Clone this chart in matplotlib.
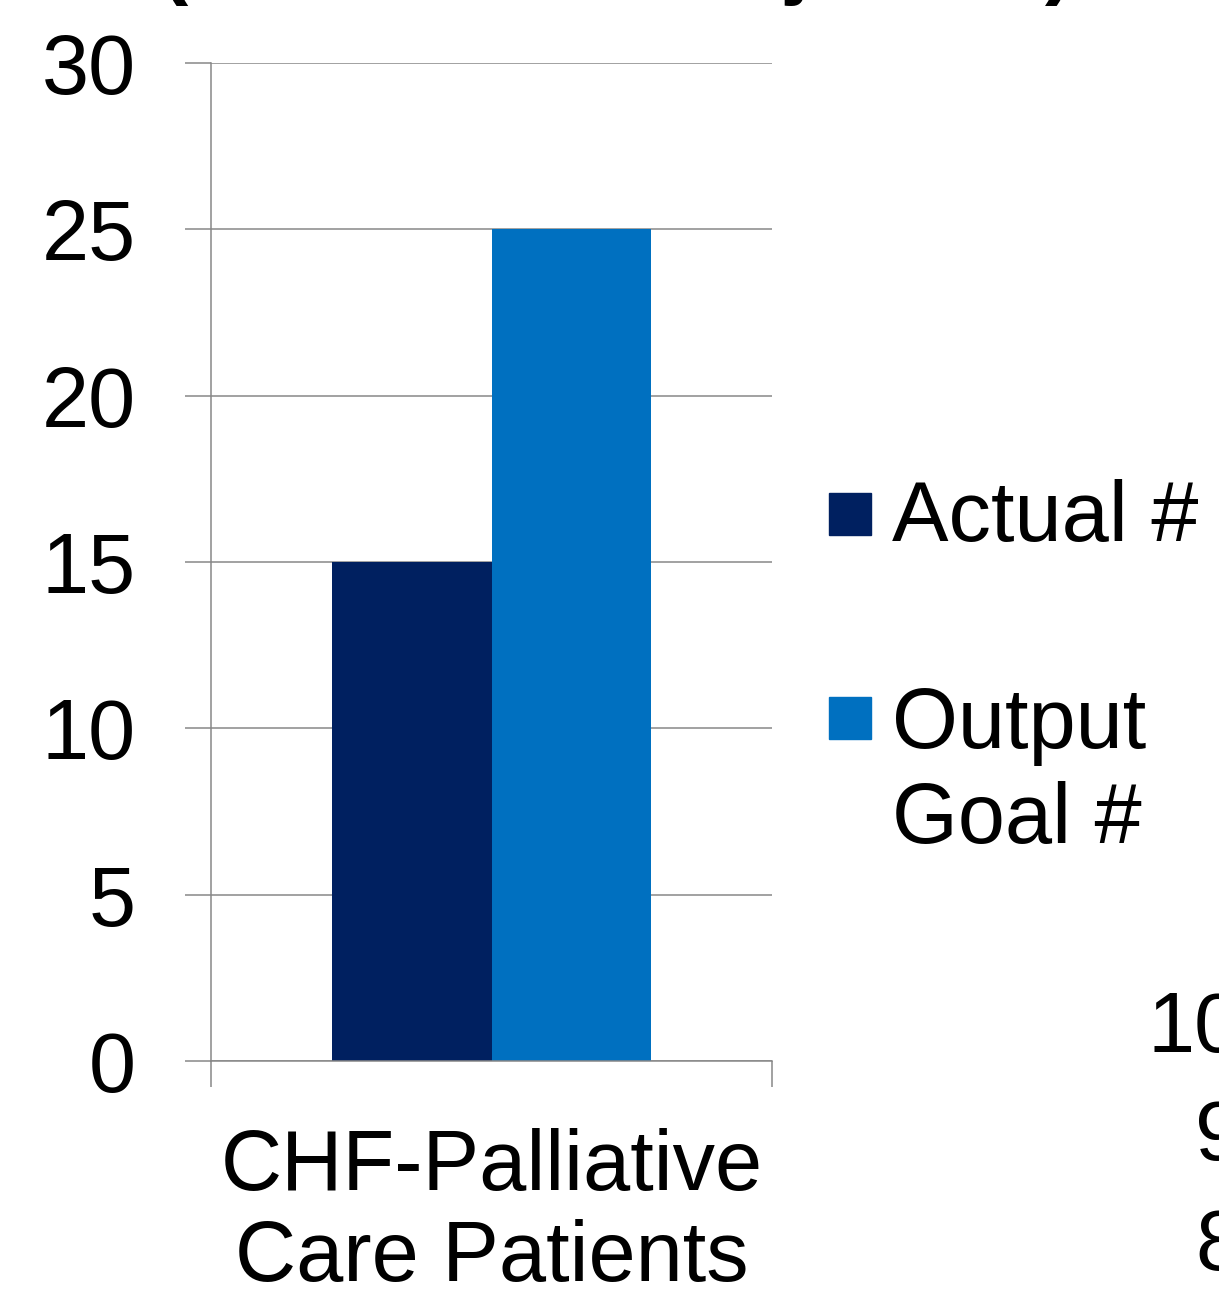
import matplotlib.pyplot as plt
from matplotlib.patches import Rectangle
import numpy as np

plt.rcParams['font.family'] = ['Liberation Sans', 'DejaVu Sans']

categories = ['CHF-Palliative\nCare Patients']
actual = [15]
goal = [25]
series_names = ['Actual #', 'Output\nGoal #']
series_colors = ['#002060', '#0070C0']
y_ticks = [0, 5, 10, 15, 20, 25, 30]
side_ticks = ['100', '90', '80']

W, H = 1219, 1293
fig = plt.figure(figsize=(W / 100, H / 100), dpi=100)
ax = fig.add_axes([211 / W, 232 / H, 561 / W, 998 / H])

grey = '#878787'
fs = 61

x = np.arange(len(categories))
bw = 0.285
ax.bar(x - bw / 2, actual, bw, color=series_colors[0], zorder=2)
ax.bar(x + bw / 2, goal, bw, color=series_colors[1], zorder=2)

ax.set_xlim(-0.5, 0.5)
ax.set_ylim(0, 30)
ax.set_yticks(y_ticks)
ax.yaxis.grid(True, color=grey, lw=1.1, zorder=1)
ax.tick_params(axis='y', length=19, width=1.1, color=grey, pad=35, labelsize=fs)

# category boundaries as major ticks, the name as a minor tick
ax.set_xticks([-0.5, 0.5])
ax.set_xticklabels([])
ax.set_xticks(x, minor=True)
ax.set_xticklabels(categories, minor=True, fontsize=fs, linespacing=1.19)
ax.tick_params(axis='x', which='major', length=19, width=1.1, color=grey)
ax.tick_params(axis='x', which='minor', length=0, pad=48)

for side in ['top', 'right']:
    ax.spines[side].set_visible(False)
for side in ['left', 'bottom']:
    ax.spines[side].set_color(grey)
    ax.spines[side].set_linewidth(1.1)

# legend: swatch beside the first line of each label
sq = 42
for name, color, top, base in zip(series_names, series_colors, [493, 697], [541, 843]):
    fig.add_artist(Rectangle((829 / W, (H - top - sq) / H), sq / W, sq / H,
                             transform=fig.transFigure, color=color))
    fig.text(892 / W, (H - base) / H, name, fontsize=fs, va='baseline',
             ha='left', linespacing=1.24)

# neighbouring axis running off the right edge
for lab, base in zip(side_ticks, [1052, 1160, 1270]):
    fig.text(1289 / W, (H - base) / H, lab, fontsize=fs, ha='right', va='baseline')

# title running off the top edge
for ch, xpos in zip(['(', 'j', ')'], [160, 785, 1045]):
    fig.text(xpos / W, (H + 12) / H, ch, fontsize=fs, fontweight='bold',
             ha='left', va='baseline')

fig.savefig('out.png', dpi=100)
